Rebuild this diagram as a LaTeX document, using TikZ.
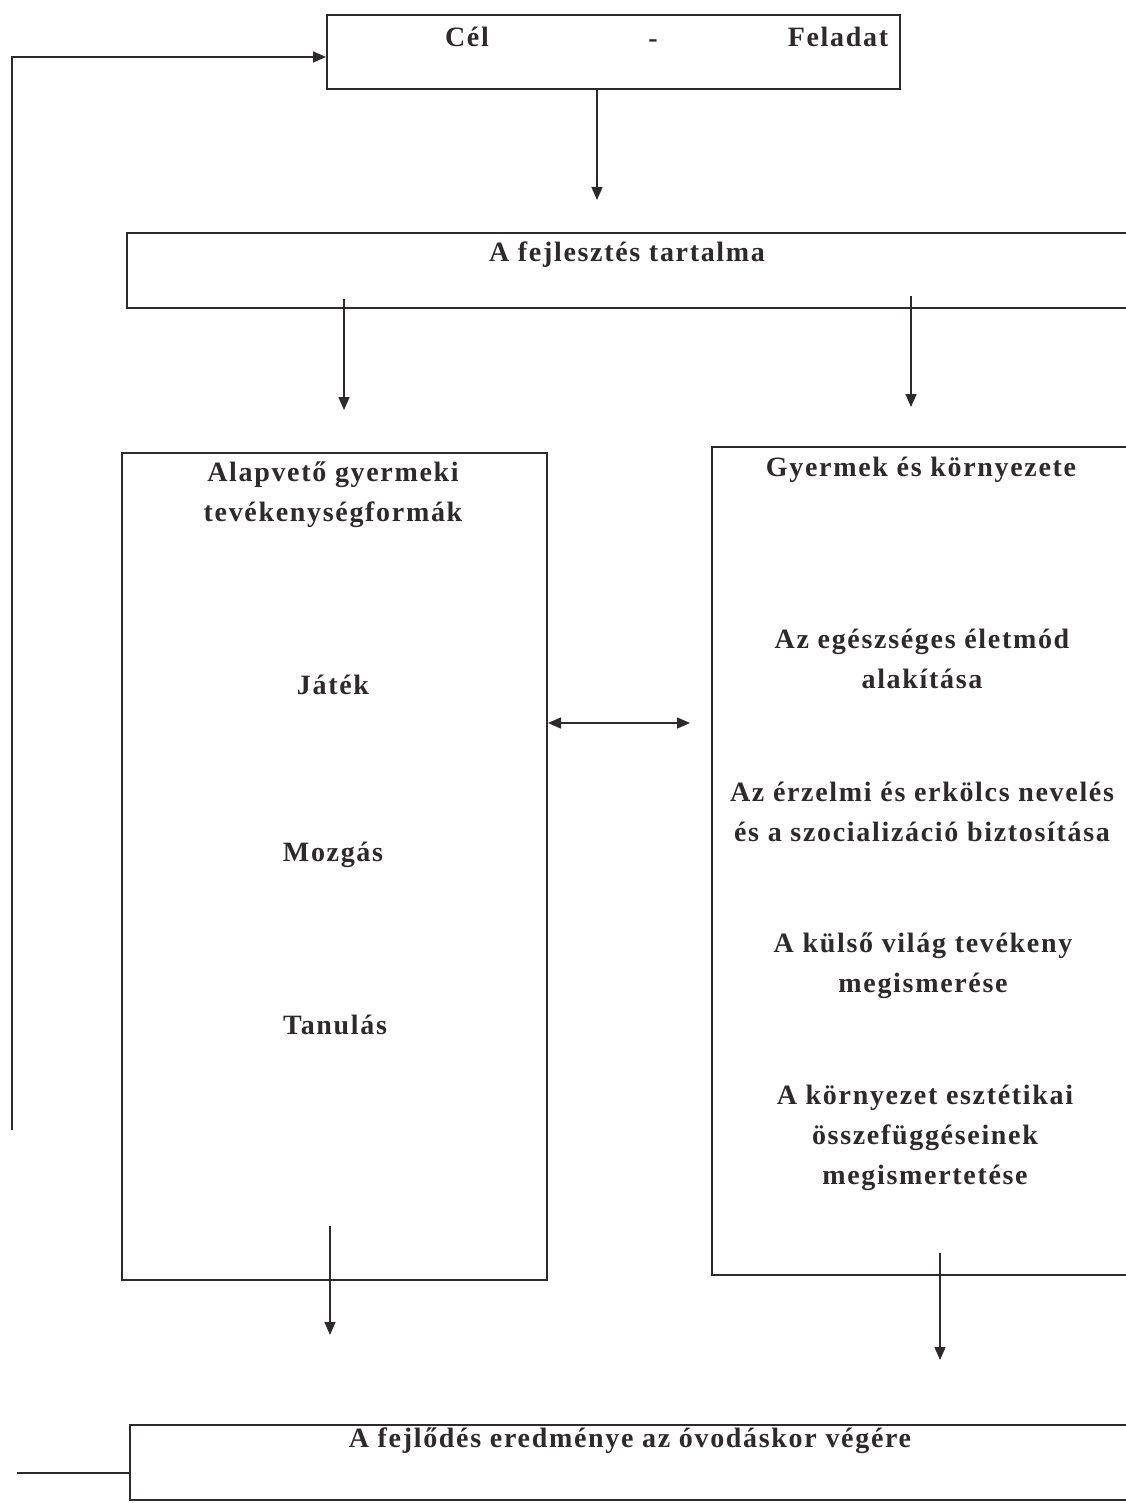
\documentclass[tikz,border=0pt]{standalone}
\usepackage{fontspec}
\setmainfont{Liberation Serif}[LetterSpace=6]
\usetikzlibrary{arrows.meta}
\definecolor{ink}{HTML}{2E2A2C}
\tikzset{
  box/.style={draw=ink, line width=2pt, rectangle, inner sep=0pt},
  lbl/.style={text=ink, font=\fontsize{28}{40}\selectfont\bfseries, align=center, inner sep=0pt},
  arr/.style={draw=ink, line width=1.4pt, -{Triangle[length=13pt,width=11pt]}},
  arrb/.style={draw=ink, line width=1.4pt, {Triangle[length=13pt,width=11pt]}-{Triangle[length=13pt,width=11pt]}},
  ln/.style={draw=ink, line width=1.4pt}
}
\begin{document}
\begin{tikzpicture}[x=1pt,y=-1pt]
\useasboundingbox[fill=white] (0,0) rectangle (1125,1503);
% boxes
\node[box, minimum width=573pt, minimum height=74pt] (top) at (613.5,52) {};
\node[box, minimum width=1013pt, minimum height=75pt] (sec) at (633.5,270.5) {};
\node[box, minimum width=425pt, minimum height=827pt] (lft) at (334.5,866.5) {};
\node[box, minimum width=428pt, minimum height=828pt] (rgt) at (926,861) {};
\node[box, minimum width=1010pt, minimum height=75pt] (bot) at (635,1462.5) {};
% texts
\node[lbl] (cel) at (467,37) {Cél};
\node[lbl] (dash) at (653,44) {-};
\node[lbl] (fel) at (838,37) {Feladat};
\node[lbl] (tart) at (627,255) {A fejlesztés tartalma};
\node[lbl] (alap) at (333,495) {Alapvető gyermeki\\tevékenységformák};
\node[lbl] (jat) at (333,685) {Játék};
\node[lbl] (moz) at (333,855) {Mozgás};
\node[lbl] (tan) at (335,1025) {Tanulás};
\node[lbl] (gyk) at (921,470) {Gyermek és környezete};
\node[lbl] (egs) at (922,659) {Az egészséges életmód\\alakítása};
\node[lbl] (erz) at (922,812) {Az érzelmi és erkölcs nevelés\\és a szocializáció biztosítása};
\node[lbl] (kul) at (923,966) {A külső világ tevékeny\\megismerése};
\node[lbl] (kor) at (925,1138) {A környezet esztétikai\\összefüggéseinek\\megismertetése};
\node[lbl] (ered) at (630,1441) {A fejlődés eredménye az óvodáskor végére};
% connector ends
\coordinate (t1) at (597,200);
\coordinate (t2) at (344,410);
\coordinate (t3) at (911,407);
\coordinate (d1) at (690,723);
\coordinate (t4) at (330,1335);
\coordinate (t5) at (940,1360);
\coordinate (fb0) at (12,1130);
\coordinate (fb1) at (17,1473);
% connectors
\draw[arr] (top.south -| t1) -- (t1);
\draw[arr] ([yshift=10pt]sec.south -| t2) -- (t2);
\draw[arr] ([yshift=13pt]sec.south -| t3) -- (t3);
\draw[arrb] (lft.east |- d1) -- (d1);
\draw[arr] ([yshift=55pt]lft.south -| t4) -- (t4);
\draw[arr] ([yshift=23pt]rgt.south -| t5) -- (t5);
\draw[arr] (fb0) |- ([yshift=-5pt]top.west);
\draw[ln] (fb1) -- (bot.west |- fb1);
\end{tikzpicture}
\end{document}
